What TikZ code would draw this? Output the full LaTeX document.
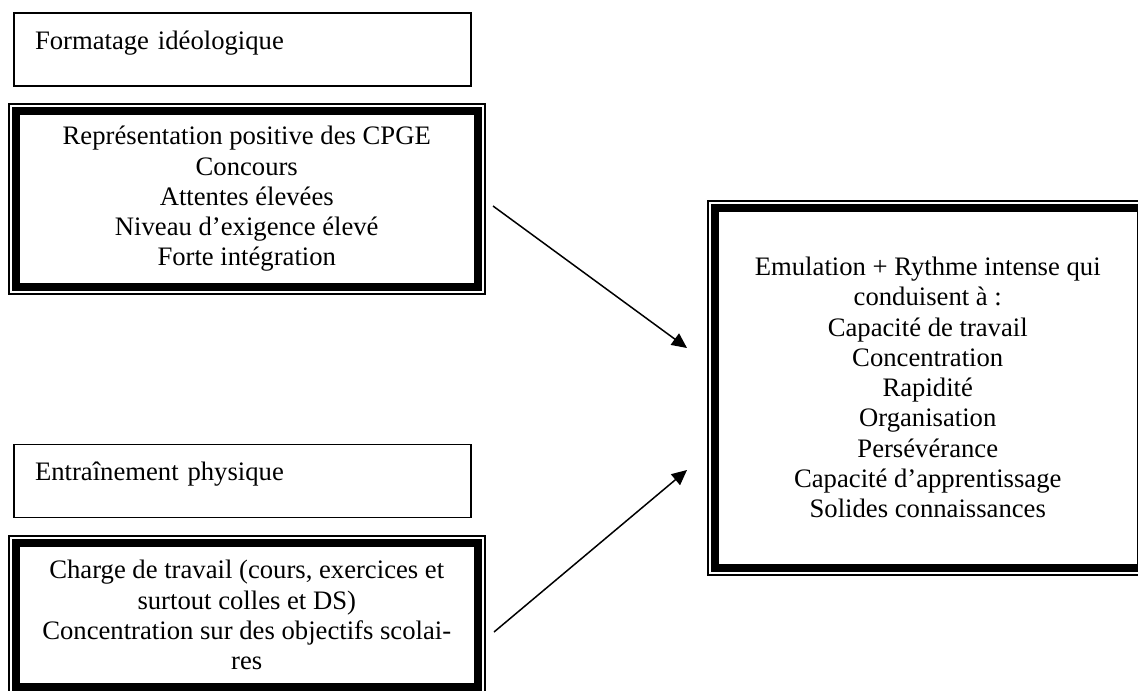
\documentclass[tikz,border=0pt]{standalone}
\usepackage{fontspec}
\setmainfont{Liberation Serif}
\usetikzlibrary{arrows.meta}
\newcommand{\pxu}{0.45pt}

\begin{document}
\begin{tikzpicture}[x=\pxu, y=-\pxu,
    txt/.style={font=\fontsize{12}{13.61}\selectfont},
    plainbox/.style={txt, draw, line width=1.5*\pxu, outer sep=0pt,
      minimum width=457*\pxu, minimum height=73*\pxu, text width=415*\pxu,
      inner xsep=21*\pxu, align=left, text height=18*\pxu, text depth=19*\pxu},
    thickbox/.style={txt, draw, line width=8*\pxu, outer sep=0pt, inner sep=0pt, align=center},
    outerframe/.style={line width=2*\pxu},
    arr/.style={-{Triangle[length=6.8pt, width=6.3pt]}, line width=1.5*\pxu}]
  \path[use as bounding box, fill=white] (0,0) rectangle (1138,690);
  \clip (0,0) rectangle (1138,690);

  \node[plainbox] (fmt) at (242.5,49.5) {Formatage idéologique};
  \node[plainbox] (entr) at (242.5,481) {Entraînement physique};
  \node[thickbox, minimum width=461.5*\pxu, minimum height=176*\pxu] (repr) at (246.75,199)
    {Représentation positive des CPGE\\Concours\\Attentes élevées\\Niveau d’exigence élevé\\Forte intégration};
  \node[thickbox, minimum width=461.5*\pxu, minimum height=144*\pxu] (charge) at (246.75,615)
    {Charge de travail (cours, exercices et\\surtout colles et DS)\\Concentration sur des objectifs scolai-\\res};
  \node[thickbox, minimum width=426.5*\pxu, minimum height=360*\pxu] (emul) at (927.75,387.5)
    {Emulation + Rythme intense qui\\conduisent à :\\Capacité de travail\\Concentration\\Rapidité\\Organisation\\Persévérance\\Capacité d’apprentissage\\Solides connaissances};

  % thin outer line of the double frames
  \foreach \b in {repr,charge,emul}
    \draw[outerframe] ([shift={(-7,-7)}]\b.north west) rectangle ([shift={(7,7)}]\b.south east);

  \coordinate (a1s) at (493,206);
  \coordinate (a1e) at (687,348);
  \coordinate (a2s) at (494,632);
  \coordinate (a2e) at (687,470);
  \draw[arr] (a1s) -- (a1e);
  \draw[arr] (a2s) -- (a2e);
\end{tikzpicture}
\end{document}
